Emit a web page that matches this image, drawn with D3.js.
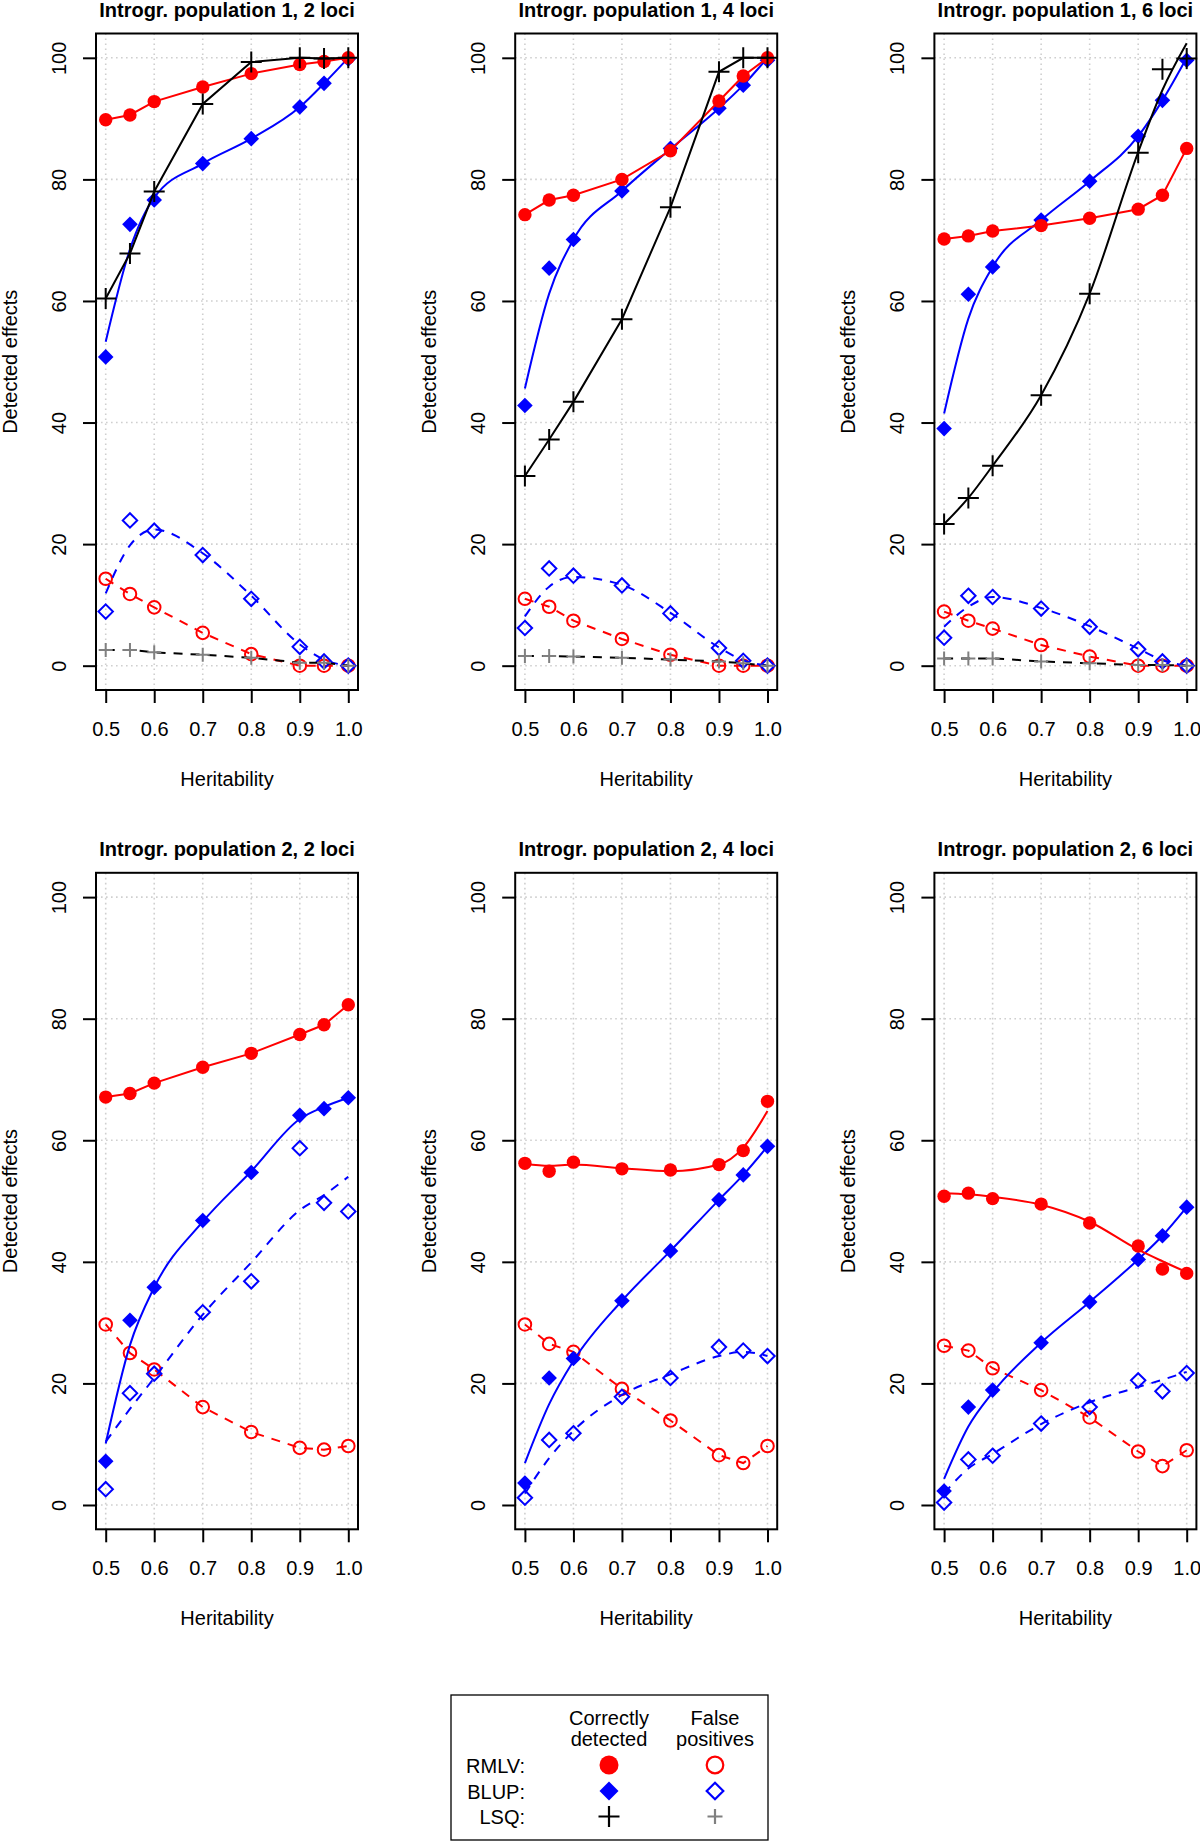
<!DOCTYPE html>
<html lang="en">
<head>
<meta charset="UTF-8">
<title>Detected effects vs heritability</title>
<script src="https://cdn.jsdelivr.net/npm/d3@7"></script>
<style>
    body { margin: 0; background: #fff; }
    svg text { font-family: "Liberation Sans", Arial, Helvetica, sans-serif; font-size: 20px; fill: #000; }
    .title { font-weight: bold; }
    .grid-line { stroke: #cfcfcf; stroke-width: 1.6; stroke-dasharray: 1.6, 3.4; }
</style>
</head>
<body>
<div id="container"></div>
<script>
    const width = 1200, height = 1842;

    // data
    const heritability = [0.5, 0.55, 0.6, 0.7, 0.8, 0.9, 0.95, 1.0];
    const xTicks = [0.5, 0.6, 0.7, 0.8, 0.9, 1.0];
    const yTicks = [0, 20, 40, 60, 80, 100];
    const panelTitles = [
        "Introgr. population 1, 2 loci", "Introgr. population 1, 4 loci", "Introgr. population 1, 6 loci",
        "Introgr. population 2, 2 loci", "Introgr. population 2, 4 loci", "Introgr. population 2, 6 loci"
    ];

    // correctly detected (points)
    const rmlvHit = [
        [89.8, 90.6, 92.8, 95.2, 97.4, 98.9, 99.4, 100],
        [74.2, 76.6, 77.4, 80.0, 84.7, 92.9, 97.0, 100],
        [70.2, 70.7, 71.5, 72.4, 73.6, 75.1, 77.4, 85.1],
        [67.1, 67.7, 69.4, 72.0, 74.3, 77.4, 79.0, 82.3],
        [56.2, 54.9, 56.4, 55.3, 55.1, 56.0, 58.3, 66.4],
        [50.8, 51.3, 50.4, 49.5, 46.4, 42.6, 38.8, 38.1]
    ];
    const blupHit = [
        [50.8, 72.6, 76.6, 82.6, 86.7, 91.9, 95.8, 99.8],
        [42.8, 65.4, 70.1, 78.1, 85.1, 91.7, 95.5, 99.6],
        [39.0, 61.1, 65.6, 73.3, 79.7, 87.1, 93.0, 99.6],
        [7.2, 30.4, 35.8, 46.8, 54.7, 64.1, 65.2, 67.0],
        [3.6, 20.9, 24.1, 33.6, 41.8, 50.2, 54.3, 59.0],
        [2.3, 16.1, 18.9, 26.7, 33.4, 40.4, 44.3, 49.0]
    ];
    const lsqHit = [
        [60.4, 67.8, 78.0, 92.4, 99.3, 100, 99.9, 100],
        [31.2, 37.2, 43.4, 57.0, 75.4, 97.7, 100, 100],
        [23.3, 27.6, 32.9, 44.5, 61.2, 84.4, 98.1, 99.9],
        null, null, null
    ];

    // false positives (points)
    const rmlvFalse = [
        [14.3, 11.8, 9.6, 5.4, 1.9, 0, 0, 0],
        [11.0, 9.7, 7.4, 4.4, 1.8, 0, 0, 0],
        [8.9, 7.4, 6.1, 3.4, 1.5, 0, 0, 0],
        [29.7, 25.0, 22.3, 16.1, 12.0, 9.4, 9.1, 9.7],
        [29.7, 26.5, 25.2, 19.1, 13.9, 8.2, 6.9, 9.7],
        [26.2, 25.4, 22.5, 18.9, 14.4, 8.8, 6.4, 9.0]
    ];
    const blupFalse = [
        [8.9, 23.9, 22.2, 18.2, 11.0, 3.1, 0.7, 0],
        [6.2, 16.0, 14.8, 13.2, 8.6, 2.9, 0.8, 0],
        [4.6, 11.5, 11.3, 9.4, 6.4, 2.7, 0.7, 0],
        [2.6, 18.4, 21.6, 31.7, 36.8, 58.7, 49.7, 48.3],
        [1.2, 10.7, 11.8, 17.8, 20.9, 26.0, 25.4, 24.5],
        [0.4, 7.5, 8.1, 13.4, 16.1, 20.5, 18.7, 21.7]
    ];
    const lsqFalse = [
        [2.6, 2.6, 2.2, 1.8, 1.3, 0.5, 0.5, 0],
        [1.6, 1.6, 1.5, 1.3, 1.0, 0.7, 0.4, 0],
        [1.2, 1.2, 1.2, 0.7, 0.4, 0.1, 0.1, 0],
        null, null, null
    ];

    // smoothed lines where they leave the points (null = line through the points)
    const blupHitLine = [
        [53.3, 68.5, 77.0, 82.6, 86.7, 91.9, 95.8, 100],
        [45.6, 61.2, 70.1, 78.1, 85.0, 91.7, 95.5, 100],
        [41.5, 57.1, 65.6, 73.3, 79.7, 87.1, 93.0, 100],
        [10.1, 26.3, 35.8, 46.6, 54.9, 63.5, 65.5, 67.0],
        [6.9, 16.6, 23.7, 33.6, 41.8, 50.2, 54.3, 59.0],
        [4.3, 12.9, 18.5, 26.7, 33.4, 40.4, 44.3, 49.0]
    ];
    const blupFalseLine = [
        [11.9, 19.8, 22.4, 18.5, 11.5, 3.5, 1.0, 0],
        [8.1, 13.0, 14.6, 13.3, 8.7, 3.0, 0.9, 0],
        [6.4, 9.7, 11.3, 9.5, 6.5, 2.8, 0.9, 0],
        [10.4, 15.8, 20.9, 31.3, 39.9, 48.5, 51.0, 54.0],
        [1.9, 7.7, 12.2, 18.1, 21.5, 24.5, 25.2, 24.5],
        [1.9, 6.0, 8.4, 13.3, 16.9, 19.4, 20.6, 21.9]
    ];
    const rmlvHitLine = [
        null, null, null, null,
        [56.1, 55.8, 56.0, 55.4, 54.9, 56.0, 58.8, 64.8],
        [51.3, 51.1, 50.7, 49.4, 46.6, 42.0, 40.1, 38.3]
    ];
    const lsqHitLine = [
        null, null,
        [23.3, 27.6, 32.9, 44.5, 61.2, 84.5, 94.7, 102.4],
        null, null, null
    ];

    const legendRows = ["RMLV:", "BLUP:", "LSQ:"];
    const legendCols = [["Correctly", "detected"], ["False", "positives"]];

    // drawing order and look of each series
    const series = [
        { pts: rmlvFalse, line: null, shape: "circle", r: 6.3, fill: "none", stroke: "#ff0000", lineColor: "#ff0000", dash: "9,8" },
        { pts: blupFalse, line: blupFalseLine, shape: "diamond", r: 7.2, fill: "none", stroke: "#0000ff", lineColor: "#0000ff", dash: "9,8" },
        { pts: blupHit, line: blupHitLine, shape: "diamond", r: 7.8, fill: "#0000ff", stroke: "none", lineColor: "#0000ff", dash: null },
        { pts: rmlvHit, line: rmlvHitLine, shape: "circle", r: 6.7, fill: "#ff0000", stroke: "none", lineColor: "#ff0000", dash: null },
        { pts: lsqFalse, line: null, shape: "plus", r: 7, fill: "none", stroke: "#808080", lineColor: "#000", dash: "9,8" },
        { pts: lsqHit, line: lsqHitLine, shape: "plus", r: 10.5, fill: "none", stroke: "#000", lineColor: "#000", dash: null }
    ];

    const plotW = 262, plotH = 656.5;
    const colStep = 419.2, rowStep = 839.3;
    const left0 = 96, top0 = 33.5;

    const x = d3.scaleLinear().domain([0.48, 1.02]).range([0, plotW]);
    const y = d3.scaleLinear().domain([-4, 104]).range([plotH, 0]);

    function marker(shape, r) {
        const p = d3.path();
        if (shape === "circle") {
            p.arc(0, 0, r, 0, 2 * Math.PI);
        } else if (shape === "diamond") {
            p.moveTo(0, -r); p.lineTo(r, 0); p.lineTo(0, r); p.lineTo(-r, 0); p.closePath();
        } else {
            p.moveTo(-r, 0); p.lineTo(r, 0); p.moveTo(0, -r); p.lineTo(0, r);
        }
        return p.toString();
    }

    const svg = d3.select("#container")
        .append("svg")
        .attr("width", width)
        .attr("height", height);

    const smoothLine = d3.line()
        .x(d => x(d[0]))
        .y(d => y(d[1]))
        .curve(d3.curveMonotoneX);
    const straightLine = d3.line()
        .x(d => x(d[0]))
        .y(d => y(d[1]));

    panelTitles.forEach((title, p) => {
        const row = Math.floor(p / 3), col = p % 3;
        const g = svg.append("g")
            .attr("transform", `translate(${left0 + col * colStep}, ${top0 + row * rowStep})`);

        // grid
        g.selectAll("line.gx").data(xTicks).enter().append("line")
            .classed("grid-line", true)
            .attr("x1", d => x(d)).attr("x2", d => x(d))
            .attr("y1", 0).attr("y2", plotH);
        g.selectAll("line.gy").data(yTicks).enter().append("line")
            .classed("grid-line", true)
            .attr("x1", 0).attr("x2", plotW)
            .attr("y1", d => y(d)).attr("y2", d => y(d));

        // axes
        g.append("g")
            .attr("transform", `translate(0, ${plotH})`)
            .call(d3.axisBottom(x).tickValues(xTicks).tickFormat(d3.format(".1f")).tickSize(13))
            .call(a => {
                a.select(".domain").remove();
                a.selectAll("line").attr("stroke-width", 2);
                a.selectAll("text").attr("y", 46).attr("dy", null);
            });

        g.append("g")
            .call(d3.axisLeft(y).tickValues(yTicks).tickSize(13))
            .call(a => {
                a.select(".domain").remove();
                a.selectAll("line").attr("stroke-width", 2);
                a.selectAll("text")
                    .attr("x", 0).attr("dy", null)
                    .attr("text-anchor", "middle")
                    .attr("transform", "translate(-30,0) rotate(-90)");
            });

        // series
        series.forEach(s => {
            const vals = s.pts[p];
            if (!vals) return;
            const fit = s.line && s.line[p];
            const lineVals = fit || vals;
            g.append("path")
                .datum(heritability.map((h, i) => [h, lineVals[i]]))
                .attr("d", fit ? smoothLine : straightLine)
                .attr("fill", "none")
                .attr("stroke", s.lineColor)
                .attr("stroke-width", 2)
                .attr("stroke-dasharray", s.dash);
            g.selectAll(null)
                .data(heritability.map((h, i) => [h, vals[i]]))
                .enter().append("path")
                .attr("transform", d => `translate(${x(d[0])}, ${y(d[1])})`)
                .attr("d", marker(s.shape, s.r))
                .attr("fill", s.fill)
                .attr("stroke", s.stroke)
                .attr("stroke-width", 2);
        });

        // box
        g.append("rect")
            .attr("width", plotW).attr("height", plotH)
            .attr("fill", "none").attr("stroke", "#000").attr("stroke-width", 2);

        g.append("text").classed("title", true)
            .attr("x", plotW / 2).attr("y", -16.5)
            .attr("text-anchor", "middle")
            .text(title);

        g.append("text")
            .attr("x", plotW / 2).attr("y", plotH + 96)
            .attr("text-anchor", "middle")
            .text("Heritability");

        g.append("text")
            .attr("transform", `translate(-79, ${plotH / 2}) rotate(-90)`)
            .attr("text-anchor", "middle")
            .text("Detected effects");
    });

    // legend
    const lg = svg.append("g");
    lg.append("rect")
        .attr("x", 451).attr("y", 1695).attr("width", 317).attr("height", 145)
        .attr("fill", "#fff").attr("stroke", "#000").attr("stroke-width", 1.3);

    const colX = [609, 715];
    const rowY = [1765, 1791, 1816.5];
    legendCols.forEach((lines, c) => {
        lines.forEach((t, k) => {
            lg.append("text")
                .attr("x", colX[c]).attr("y", 1725 + k * 21)
                .attr("text-anchor", "middle")
                .text(t);
        });
    });
    legendRows.forEach((t, r) => {
        lg.append("text")
            .attr("x", 525).attr("y", rowY[r] + 7.5)
            .attr("text-anchor", "end")
            .text(t);
    });

    const legendMarks = [
        [{ shape: "circle", r: 9.5, fill: "#ff0000", stroke: "none" }, { shape: "circle", r: 8.3, fill: "none", stroke: "#ff0000" }],
        [{ shape: "diamond", r: 9.5, fill: "#0000ff", stroke: "none" }, { shape: "diamond", r: 8.3, fill: "none", stroke: "#0000ff" }],
        [{ shape: "plus", r: 10.5, fill: "none", stroke: "#000" }, { shape: "plus", r: 7.5, fill: "none", stroke: "#808080" }]
    ];
    legendMarks.forEach((pair, r) => {
        pair.forEach((m, c) => {
            lg.append("path")
                .attr("transform", `translate(${colX[c]}, ${rowY[r]})`)
                .attr("d", marker(m.shape, m.r))
                .attr("fill", m.fill)
                .attr("stroke", m.stroke)
                .attr("stroke-width", 2.2);
        });
    });
</script>
</body>
</html>
